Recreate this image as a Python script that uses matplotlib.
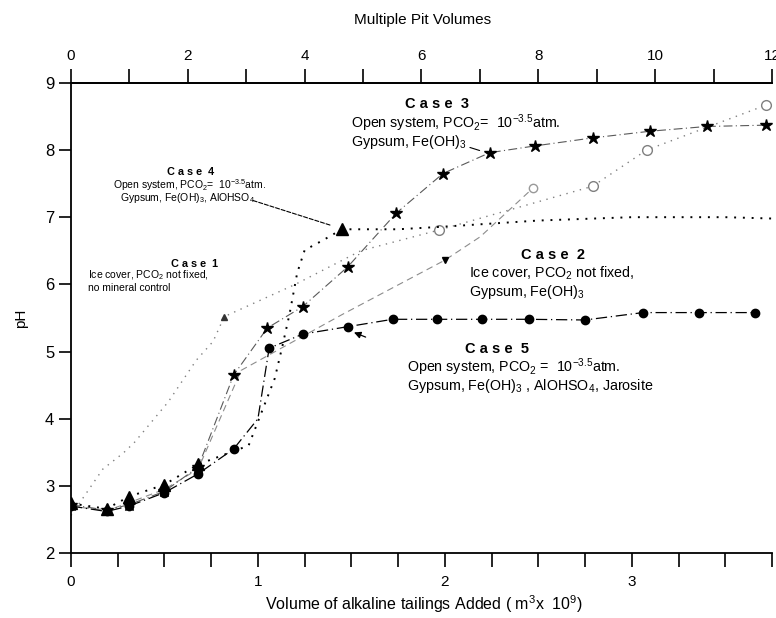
import matplotlib
matplotlib.use("Agg")
import matplotlib.pyplot as plt
from matplotlib.ticker import MultipleLocator, FixedLocator

plt.rcParams['font.family'] = ['Liberation Sans', 'DejaVu Sans']
plt.rcParams['mathtext.fontset'] = 'custom'
plt.rcParams['mathtext.rm'] = 'Liberation Sans'
plt.rcParams['mathtext.it'] = 'Liberation Sans:italic'
plt.rcParams['mathtext.bf'] = 'Liberation Sans:bold'

# volume of tailings added (10^9 m^3) and resulting pH for each model case
vol_case1 = [0, 0.17, 0.28, 0.34, 0.52, 0.67, 0.76, 0.82, 1.20, 1.55, 1.97, 2.79, 3.08, 3.72]
ph_case1 = [2.56, 3.25, 3.49, 3.65, 4.25, 4.87, 5.15, 5.52, 6.00, 6.50, 6.81, 7.46, 8.00, 8.67]

vol_case2 = [0, 0.19, 0.31, 0.50, 0.68, 0.91, 1.45, 2.00, 2.19, 2.47]
ph_case2 = [2.70, 2.63, 2.75, 2.95, 3.25, 4.72, 5.55, 6.36, 6.71, 7.43]

vol_case3 = [0, 0.19, 0.31, 0.50, 0.68, 0.87, 1.05, 1.24, 1.48, 1.74, 1.99, 2.24,
             2.48, 2.79, 3.10, 3.40, 3.72]
ph_case3 = [2.72, 2.64, 2.72, 2.92, 3.28, 4.65, 5.35, 5.67, 6.26, 7.06, 7.65, 7.96,
            8.06, 8.18, 8.28, 8.35, 8.37]

vol_case4 = [0, 0.19, 0.31, 0.50, 0.68, 0.95, 1.09, 1.13, 1.17, 1.21, 1.25, 1.35,
             1.45, 1.75, 2.00, 2.50, 3.00, 3.50, 3.75]
ph_case4 = [2.74, 2.66, 2.84, 3.02, 3.32, 3.60, 4.60, 5.07, 5.57, 6.17, 6.51, 6.66,
            6.82, 6.82, 6.86, 6.95, 7.00, 7.00, 6.98]

vol_case5 = [0, 0.19, 0.31, 0.50, 0.68, 0.87, 1.00, 1.06, 1.24, 1.48, 1.72, 1.96,
             2.20, 2.45, 2.75, 3.06, 3.36, 3.66]
ph_case5 = [2.70, 2.62, 2.70, 2.90, 3.18, 3.55, 4.00, 5.05, 5.26, 5.37, 5.48, 5.48,
            5.48, 5.48, 5.47, 5.58, 5.58, 5.58]

PIT_VOLUME = 0.3125  # 10^9 m^3 in one pit volume

fig = plt.figure(figsize=(7.76, 6.18), dpi=100)
ax = fig.add_axes([0.0915, 0.105, 0.9033, 0.761])

# case 1: no mineral control
ax.plot(vol_case1, ph_case1, color='0.5', lw=1.0, linestyle=(0, (1, 4)),
        marker='^', markersize=5, markevery=[7], mfc='0.2', mec='0.2')
ax.plot(vol_case1[10:], ph_case1[10:], linestyle='none', marker='o', markersize=7,
        mfc='white', mec='0.5')
# case 2: ice cover with gypsum / Fe(OH)3
ax.plot(vol_case2, ph_case2, color='0.55', lw=0.8, linestyle=(0, (6, 4)),
        marker='v', markersize=5, markevery=[7], mfc='black', mec='black')
ax.plot(vol_case2[9:], ph_case2[9:], linestyle='none', marker='o', markersize=6,
        mfc='white', mec='0.6')
# case 3: open system, gypsum / Fe(OH)3
ax.plot(vol_case3, ph_case3, color='0.35', lw=0.8, linestyle=(0, (8, 3, 1, 3)),
        marker='*', markersize=9, mfc='black', mec='black')
# case 4: open system with AlOHSO4
ax.plot(vol_case4, ph_case4, color='black', lw=1.4, linestyle=(0, (1, 3.5)),
        marker='^', markersize=8, markevery=[0, 1, 2, 3, 4, 12], mfc='black', mec='black')
# case 5: open system with jarosite
ax.plot(vol_case5, ph_case5, color='black', lw=0.9, linestyle=(0, (9, 3, 1, 3)),
        marker='o', markersize=6, markevery=[0, 1, 2, 3, 4, 5, 7, 8, 9, 10, 11, 12, 13, 14, 15, 16, 17],
        mfc='black', mec='black')

ax.set_xlim(0, 3.75)
ax.set_ylim(2, 9)
ax.spines['right'].set_visible(False)
for s in ax.spines.values():
    s.set_linewidth(1.3)

ax.xaxis.set_major_locator(FixedLocator([0, 1, 2, 3]))
ax.xaxis.set_minor_locator(MultipleLocator(0.25))
ax.tick_params(axis='x', which='both', direction='out', length=10, width=1.2,
               labelsize=11, pad=6)
ax.yaxis.set_major_locator(MultipleLocator(1))
ax.tick_params(axis='y', direction='out', length=9, width=1.2, labelsize=12, pad=3)

top = ax.secondary_xaxis('top', functions=(lambda v: v / PIT_VOLUME,
                                           lambda p: p * PIT_VOLUME))
top.xaxis.set_major_locator(MultipleLocator(2))
top.xaxis.set_minor_locator(MultipleLocator(1))
top.tick_params(axis='x', which='both', direction='out', length=10, width=1.2,
                labelsize=11, pad=4)
top.spines['top'].set_linewidth(1.3)

ax.set_ylabel('pH', fontsize=11, labelpad=12)
fig.text(0.545, 0.968, 'Multiple Pit Volumes', ha='center', va='center', fontsize=11)
fig.text(0.547, 0.022, r'Volume of alkaline tailings Added ( m$^3$x  10$^9$)',
         ha='center', va='center', fontsize=11.5)

title_kw = dict(ha='center', va='center', fontsize=10.5, fontweight='bold')
body_kw = dict(ha='left', va='center', fontsize=10.3)
small_title = dict(ha='center', va='center', fontsize=7.8, fontweight='bold')
small_body = dict(ha='left', va='center', fontsize=7.5)

ax.text(1.96, 8.69, 'C a s e  3', **title_kw)
ax.text(1.50, 8.40, r'Open system, PCO$_2$=  10$^{-3.5}$atm.', **body_kw)
ax.text(1.50, 8.12, r'Gypsum, Fe(OH)$_3$', **body_kw)
ax.annotate('', xy=(2.20, 7.98), xytext=(2.12, 8.05),
            arrowprops=dict(arrowstyle='-', color='black', lw=0.8))

ax.text(0.64, 7.67, 'C a s e  4', **small_title)
ax.text(0.635, 7.48, r'Open system, PCO$_2$=  10$^{-3.5}$atm.', ha='center', va='center',
        fontsize=7.5)
ax.text(0.26, 7.29, r'Gypsum, Fe(OH)$_3$, AlOHSO$_4$', **small_body)
ax.annotate('', xy=(1.40, 6.87), xytext=(0.96, 7.26),
            arrowprops=dict(arrowstyle='-', color='black', lw=0.8, linestyle='--'))

ax.text(0.66, 6.30, 'C a s e  1', **small_title)
ax.text(0.09, 6.13, r'Ice cover, PCO$_2$ not fixed,', **small_body)
ax.text(0.09, 5.95, 'no mineral control', **small_body)

ax.text(2.58, 6.44, 'C a s e  2', **title_kw)
ax.text(2.13, 6.17, r'Ice cover, PCO$_2$ not fixed,', **body_kw)
ax.text(2.13, 5.89, r'Gypsum, Fe(OH)$_3$', **body_kw)

ax.text(2.28, 5.04, 'C a s e  5', **title_kw)
ax.text(1.80, 4.77, r'Open system, PCO$_2$ =  10$^{-3.5}$atm.', **body_kw)
ax.text(1.80, 4.49, r'Gypsum, Fe(OH)$_3$ , AlOHSO$_4$, Jarosite', **body_kw)
ax.annotate('', xy=(1.50, 5.30), xytext=(1.59, 5.20),
            arrowprops=dict(arrowstyle='-|>', color='black', lw=0.9, mutation_scale=10))

fig.savefig('out.png', dpi=100)
